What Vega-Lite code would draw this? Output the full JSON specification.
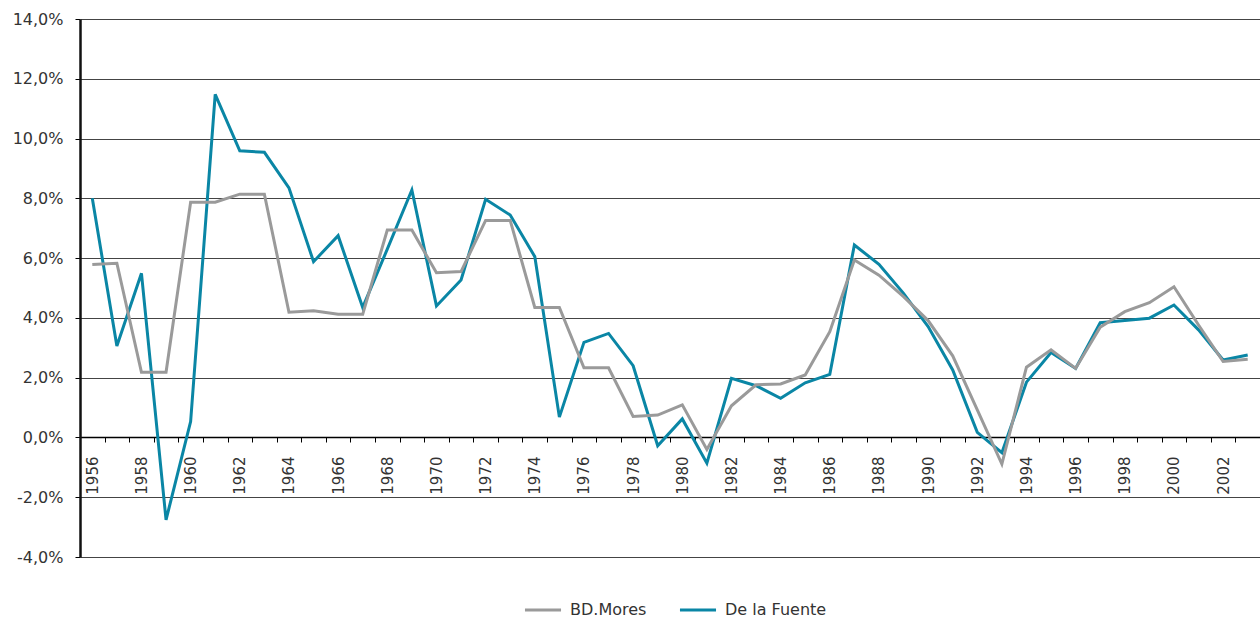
{
  "$schema": "https://vega.github.io/schema/vega-lite/v6.json",
  "width": 1180,
  "height": 538,
  "autosize": {"type": "none"},
  "padding": {"left": 80, "top": 19, "right": 0, "bottom": 62},
  "background": "white",
  "config": {
    "font": "DejaVu Sans",
    "view": {"stroke": null},
    "axis": {"labelFont": "DejaVu Sans", "labelColor": "#333333", "labelFontSize": 16, "titleFontSize": 0}
  },
  "datasets": {
    "rows": [
      {"year":1956,"serie":"BD.Mores","v":5.79},{"year":1956,"serie":"De la Fuente","v":8.0},
      {"year":1957,"serie":"BD.Mores","v":5.83},{"year":1957,"serie":"De la Fuente","v":3.06},
      {"year":1958,"serie":"BD.Mores","v":2.18},{"year":1958,"serie":"De la Fuente","v":5.49},
      {"year":1959,"serie":"BD.Mores","v":2.18},{"year":1959,"serie":"De la Fuente","v":-2.76},
      {"year":1960,"serie":"BD.Mores","v":7.87},{"year":1960,"serie":"De la Fuente","v":0.53},
      {"year":1961,"serie":"BD.Mores","v":7.87},{"year":1961,"serie":"De la Fuente","v":11.48},
      {"year":1962,"serie":"BD.Mores","v":8.14},{"year":1962,"serie":"De la Fuente","v":9.59},
      {"year":1963,"serie":"BD.Mores","v":8.14},{"year":1963,"serie":"De la Fuente","v":9.54},
      {"year":1964,"serie":"BD.Mores","v":4.19},{"year":1964,"serie":"De la Fuente","v":8.35},
      {"year":1965,"serie":"BD.Mores","v":4.24},{"year":1965,"serie":"De la Fuente","v":5.88},
      {"year":1966,"serie":"BD.Mores","v":4.12},{"year":1966,"serie":"De la Fuente","v":6.75},
      {"year":1967,"serie":"BD.Mores","v":4.12},{"year":1967,"serie":"De la Fuente","v":4.35},
      {"year":1968,"serie":"BD.Mores","v":6.94},{"year":1968,"serie":"De la Fuente","v":6.3},
      {"year":1969,"serie":"BD.Mores","v":6.94},{"year":1969,"serie":"De la Fuente","v":8.28},
      {"year":1970,"serie":"BD.Mores","v":5.51},{"year":1970,"serie":"De la Fuente","v":4.4},
      {"year":1971,"serie":"BD.Mores","v":5.55},{"year":1971,"serie":"De la Fuente","v":5.27},
      {"year":1972,"serie":"BD.Mores","v":7.26},{"year":1972,"serie":"De la Fuente","v":7.97},
      {"year":1973,"serie":"BD.Mores","v":7.26},{"year":1973,"serie":"De la Fuente","v":7.44},
      {"year":1974,"serie":"BD.Mores","v":4.35},{"year":1974,"serie":"De la Fuente","v":6.05},
      {"year":1975,"serie":"BD.Mores","v":4.35},{"year":1975,"serie":"De la Fuente","v":0.68},
      {"year":1976,"serie":"BD.Mores","v":2.33},{"year":1976,"serie":"De la Fuente","v":3.18},
      {"year":1977,"serie":"BD.Mores","v":2.33},{"year":1977,"serie":"De la Fuente","v":3.48},
      {"year":1978,"serie":"BD.Mores","v":0.70},{"year":1978,"serie":"De la Fuente","v":2.40},
      {"year":1979,"serie":"BD.Mores","v":0.75},{"year":1979,"serie":"De la Fuente","v":-0.28},
      {"year":1980,"serie":"BD.Mores","v":1.09},{"year":1980,"serie":"De la Fuente","v":0.62},
      {"year":1981,"serie":"BD.Mores","v":-0.40},{"year":1981,"serie":"De la Fuente","v":-0.86},
      {"year":1982,"serie":"BD.Mores","v":1.06},{"year":1982,"serie":"De la Fuente","v":1.98},
      {"year":1983,"serie":"BD.Mores","v":1.76},{"year":1983,"serie":"De la Fuente","v":1.73},
      {"year":1984,"serie":"BD.Mores","v":1.79},{"year":1984,"serie":"De la Fuente","v":1.31},
      {"year":1985,"serie":"BD.Mores","v":2.09},{"year":1985,"serie":"De la Fuente","v":1.83},
      {"year":1986,"serie":"BD.Mores","v":3.54},{"year":1986,"serie":"De la Fuente","v":2.11},
      {"year":1987,"serie":"BD.Mores","v":5.94},{"year":1987,"serie":"De la Fuente","v":6.44},
      {"year":1988,"serie":"BD.Mores","v":5.43},{"year":1988,"serie":"De la Fuente","v":5.79},
      {"year":1989,"serie":"BD.Mores","v":4.71},{"year":1989,"serie":"De la Fuente","v":4.82},
      {"year":1990,"serie":"BD.Mores","v":3.91},{"year":1990,"serie":"De la Fuente","v":3.71},
      {"year":1991,"serie":"BD.Mores","v":2.73},{"year":1991,"serie":"De la Fuente","v":2.26},
      {"year":1992,"serie":"BD.Mores","v":0.92},{"year":1992,"serie":"De la Fuente","v":0.17},
      {"year":1993,"serie":"BD.Mores","v":-0.89},{"year":1993,"serie":"De la Fuente","v":-0.51},
      {"year":1994,"serie":"BD.Mores","v":2.35},{"year":1994,"serie":"De la Fuente","v":1.85},
      {"year":1995,"serie":"BD.Mores","v":2.93},{"year":1995,"serie":"De la Fuente","v":2.84},
      {"year":1996,"serie":"BD.Mores","v":2.31},{"year":1996,"serie":"De la Fuente","v":2.31},
      {"year":1997,"serie":"BD.Mores","v":3.69},{"year":1997,"serie":"De la Fuente","v":3.84},
      {"year":1998,"serie":"BD.Mores","v":4.21},{"year":1998,"serie":"De la Fuente","v":3.91},
      {"year":1999,"serie":"BD.Mores","v":4.51},{"year":1999,"serie":"De la Fuente","v":3.99},
      {"year":2000,"serie":"BD.Mores","v":5.04},{"year":2000,"serie":"De la Fuente","v":4.43},
      {"year":2001,"serie":"BD.Mores","v":3.76},{"year":2001,"serie":"De la Fuente","v":3.6},
      {"year":2002,"serie":"BD.Mores","v":2.54},{"year":2002,"serie":"De la Fuente","v":2.59},
      {"year":2003,"serie":"BD.Mores","v":2.62},{"year":2003,"serie":"De la Fuente","v":2.76}
    ]
  },
  "data": {"name": "rows"},
  "encoding": {
    "x": {
      "field": "year", "type": "ordinal",
      "scale": {"type": "band", "paddingInner": 0, "paddingOuter": 0},
      "axis": {
        "title": null, "orient": "bottom", "offset": -120,
        "labelAngle": -90, "labelPadding": 14, "labelFontSize": 15, "tickBand": "extent",
        "tickSize": 5, "tickColor": "#000000", "tickWidth": 1,
        "domainColor": "#000000", "domainWidth": 1.5,
        "labelExpr": "datum.value % 2 == 0 ? datum.label : ''",
        "grid": false
      }
    },
    "y": {
      "field": "v", "type": "quantitative",
      "scale": {"domain": [-4, 14], "nice": false, "zero": false},
      "axis": {
        "title": null, "values": [-4, -2, 0, 2, 4, 6, 8, 10, 12, 14],
        "labelExpr": "replace(replace(format(datum.value, '.1f'), '.', ','), '\u2212', '-') + '%'",
        "labelPadding": 12, "tickSize": 5, "tickColor": "#000000",
        "domainColor": "#111111", "domainWidth": 2.5,
        "grid": true, "gridColor": "#444444", "gridWidth": 1
      }
    },
    "color": {
      "field": "serie", "type": "nominal",
      "scale": {"domain": ["BD.Mores", "De la Fuente"], "range": ["#9a9a9a", "#0a86a5"]},
      "legend": {
        "title": null, "orient": "none", "legendX": 443, "legendY": 571,
        "direction": "horizontal", "symbolType": "stroke", "symbolSize": 1300,
        "symbolStrokeWidth": 3, "labelFontSize": 16, "labelColor": "#333333",
        "labelFont": "DejaVu Sans", "labelOffset": 7, "columnPadding": 26
      }
    }
  },
  "layer": [
    {
      "transform": [{"filter": "datum.serie == 'De la Fuente'"}],
      "mark": {"type": "line", "strokeWidth": 3}
    },
    {
      "transform": [{"filter": "datum.serie == 'BD.Mores'"}],
      "mark": {"type": "line", "strokeWidth": 3}
    }
  ]
}
